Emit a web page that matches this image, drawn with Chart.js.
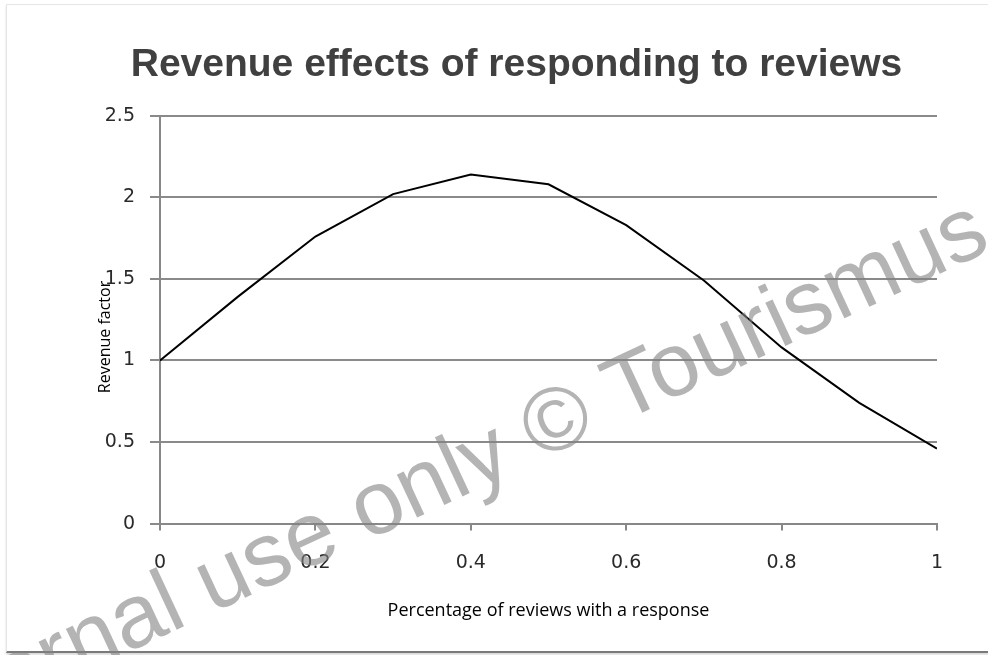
<!DOCTYPE html>
<html>
<head>
<meta charset="utf-8">
<script src="https://cdn.jsdelivr.net/npm/chart.js@4.4.1/dist/chart.umd.min.js"></script>
<style>
  html, body { margin: 0; padding: 0; background: #fff; }
  #card {
    position: absolute; left: 6px; top: 4px; width: 990px; height: 646px;
    border-top: 1px solid #e6e6e6; border-left: 1px solid #e6e6e6;
    border-bottom: 2px solid #7a7a7a;
    box-shadow: 0 2px 2px rgba(0,0,0,0.15);
  }
  #wrap { position: absolute; left: 0; top: 0; width: 988px; height: 655px; }
</style>
</head>
<body>
<div id="card"></div>
<div id="wrap"><canvas id="meuGrafico"></canvas></div>
<script>
// dados
const percentagens = [0, 0.1, 0.2, 0.3, 0.4, 0.5, 0.6, 0.7, 0.8, 0.9, 1];
const fatorReceita = [1.0, 1.39, 1.76, 2.02, 2.14, 2.08, 1.83, 1.49, 1.08, 0.74, 0.46];
const ticksX = [0, 0.2, 0.4, 0.6, 0.8, 1];
const ticksY = [0, 0.5, 1, 1.5, 2, 2.5];
const tituloY = 'Revenue factor';

// título do eixo y (sobreposto aos rótulos, como no original)
const tituloEixoY = {
  id: 'tituloEixoY',
  afterDraw(chart) {
    const ctx = chart.ctx;
    ctx.save();
    ctx.font = '16px "Open Sans", sans-serif';
    ctx.fillStyle = '#000';
    ctx.textAlign = 'center';
    ctx.textBaseline = 'middle';
    ctx.translate(105, 337);
    ctx.rotate(-Math.PI / 2);
    ctx.fillText(tituloY, 0, 0);
    ctx.restore();
  }
};

const marcaDagua = {
  id: 'marcaDagua',
  afterDraw(chart) {
    const ctx = chart.ctx;
    ctx.save();
    ctx.font = '90px "Liberation Sans", Arial, sans-serif';
    ctx.fillStyle = 'rgba(130,130,130,0.6)';
    ctx.textBaseline = 'alphabetic';
    const antes = ctx.measureText('Internal use only ').width;
    const copy = ctx.measureText('©').width;
    ctx.translate(555, 418);
    ctx.rotate(-25 * Math.PI / 180);
    ctx.fillText('Internal use only © Tourismus', -(antes + copy / 2), 32);
    ctx.restore();
  }
};

const fonteTicks = { family: '"DejaVu Sans", sans-serif', size: 19 };

const meuGrafico = document.getElementById('meuGrafico');

new Chart(meuGrafico, {
  type: 'line',
  data: {
    datasets: [{
      label: tituloY,
      data: percentagens.map((x, i) => ({ x: x, y: fatorReceita[i] })),
      borderColor: '#000000',
      borderWidth: 2,
      pointRadius: 0,
      tension: 0
    }]
  },
  options: {
    responsive: true,
    maintainAspectRatio: false,
    animation: false,
    layout: { padding: { left: 96, right: 51, top: 10, bottom: 8 } },
    plugins: {
      legend: { display: false },
      tooltip: { enabled: false },
      title: {
        display: true,
        text: 'Revenue effects of responding to reviews',
        color: '#404040',
        font: { family: '"Liberation Sans", Arial, sans-serif', size: 39, weight: 'bold' },
        padding: { top: 32, bottom: 27 }
      }
    },
    scales: {
      x: {
        type: 'linear',
        min: 0, max: 1,
        afterBuildTicks: (axis) => { axis.ticks = ticksX.map(v => ({ value: v })); },
        grid: { drawOnChartArea: false, drawTicks: true, tickLength: 7, color: '#888888', lineWidth: 2 },
        border: { color: '#888888', width: 2 },
        ticks: {
          color: '#2a2a2a',
          padding: 21,
          font: fonteTicks,
          maxRotation: 0,
          callback: (v) => String(v)
        },
        title: {
          display: true,
          text: 'Percentage of reviews with a response',
          color: '#000',
          font: { family: '"Open Sans", sans-serif', size: 18 },
          padding: { top: 5, bottom: 25 }
        }
      },
      y: {
        min: 0, max: 2.5,
        afterBuildTicks: (axis) => { axis.ticks = ticksY.map(v => ({ value: v })); },
        afterFit: (axis) => { axis.width = 64; },
        grid: { color: '#8a8a8a', lineWidth: 2, drawTicks: true, tickLength: 10 },
        border: { color: '#888888', width: 2 },
        ticks: {
          color: '#2a2a2a',
          padding: 15,
          font: fonteTicks,
          callback: (v) => String(v)
        }
      }
    }
  },
  plugins: [tituloEixoY, marcaDagua]
});
</script>
</body>
</html>
